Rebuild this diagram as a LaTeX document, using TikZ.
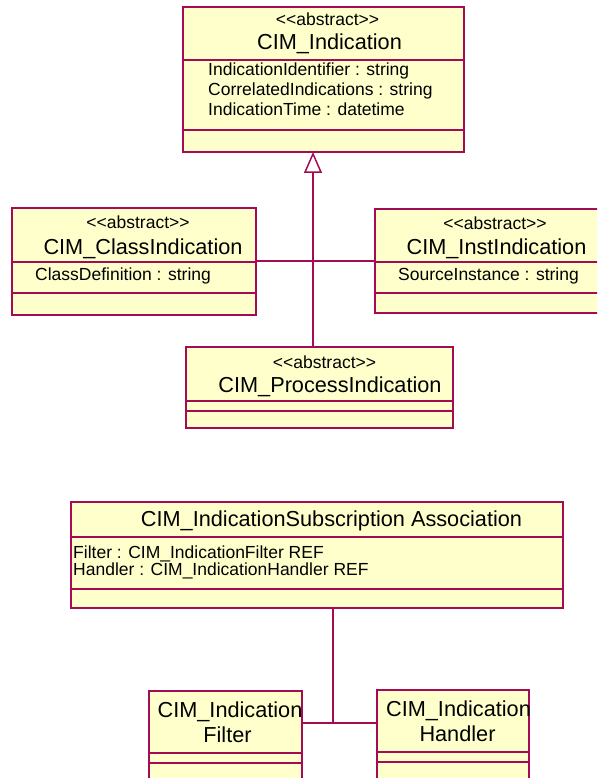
\documentclass[tikz,border=0pt]{standalone}
\usepackage{fontspec}
\setmainfont{Liberation Sans}
\usetikzlibrary{arrows.meta,calc}
\definecolor{umlline}{RGB}{165,10,85}
\definecolor{umlfill}{RGB}{255,255,204}
\tikzset{
  umlbox/.style={draw=umlline, fill=umlfill, line width=1.8pt, rectangle, inner sep=0pt, outer sep=0pt, anchor=north west},
  divider/.style={draw=umlline, line width=1.5pt},
  conn/.style={draw=umlline, line width=1.5pt},
  assoc/.style={draw=umlline, line width=2.4pt},
  small/.style={font=\fontsize{17.5}{20}\selectfont, inner sep=0pt, anchor=base},
  smallleft/.style={font=\fontsize{17.5}{20}\selectfont, inner sep=0pt, anchor=base west},
  title/.style={font=\fontsize{21.7}{24}\selectfont, inner sep=0pt, anchor=base},
}
\begin{document}
\begin{tikzpicture}[x=1pt,y=-1pt]
\useasboundingbox (0,0) rectangle (597,778);
\clip (0,0) rectangle (597,778);
% CIM_Indication
\node[umlbox, minimum width=281pt, minimum height=145pt] (ind) at (183,7) {};
\draw[divider] (183,60) -- (464,60);
\draw[divider] (183,130) -- (464,130);
\node[small] (indst) at (327.5,26) {<{}<abstract>{}>};
\node[title] (indt) at (329.5,50) {CIM\_Indication};
\node[smallleft] (inda1) at (208,76) {IndicationIdentifier : string};
\node[smallleft] (inda2) at (208,96) {CorrelatedIndications : string};
\node[smallleft] (inda3) at (208,116) {IndicationTime : datetime};
% CIM_ClassIndication
\node[umlbox, minimum width=244pt, minimum height=107pt] (cls) at (12,208) {};
\draw[divider] (12,262) -- (256,262);
\draw[divider] (12,293) -- (256,293);
\node[small] (clsst) at (138,228) {<{}<abstract>{}>};
\node[title] (clst) at (143,254) {CIM\_ClassIndication};
\node[smallleft] (clsa1) at (35,280) {ClassDefinition : string};
% CIM_InstIndication
\node[umlbox, minimum width=226pt, minimum height=104pt] (inst) at (375,209) {};
\draw[divider] (375,262) -- (601,262);
\draw[divider] (375,293) -- (601,293);
\node[small] (instst) at (495,229) {<{}<abstract>{}>};
\node[title] (instt) at (496.5,254) {CIM\_InstIndication};
\node[smallleft] (insta1) at (398,280) {SourceInstance : string};
% CIM_ProcessIndication
\node[umlbox, minimum width=267pt, minimum height=81pt] (proc) at (186,347) {};
\draw[divider] (186,401) -- (453,401);
\draw[divider] (186,411) -- (453,411);
\node[small] (procst) at (324.5,368) {<{}<abstract>{}>};
\node[title] (proct) at (330,392) {CIM\_ProcessIndication};
% Generalization connectors
\coordinate (gx) at (313,0);
\draw[conn] (cls.east |- 0,261) -- (inst.west |- 0,261);
\draw[conn, -{Triangle[open, length=21pt, width=18pt, line width=1.5pt]}] (gx |- proc.north) -- (gx |- ind.south);
% Association class
\node[umlbox, minimum width=492pt, minimum height=106pt] (asc) at (71,502) {};
\draw[divider] (71,537) -- (563,537);
\draw[divider] (71,589) -- (563,589);
\node[title] (asct) at (331.5,526) {CIM\_IndicationSubscription Association};
\node[smallleft] (asca1) at (73,558) {Filter : CIM\_IndicationFilter REF};
\node[smallleft] (asca2) at (73,575) {Handler : CIM\_IndicationHandler REF};
% Filter
\node[umlbox, minimum width=153pt, minimum height=90pt] (flt) at (149,691) {};
\draw[divider] (149,753) -- (302,753);
\draw[divider] (149,763) -- (302,763);
\node[title] (fltt1) at (230,717) {CIM\_Indication};
\node[title] (fltt2) at (227.5,742) {Filter};
% Handler
\node[umlbox, minimum width=152pt, minimum height=91pt] (hnd) at (377,690) {};
\draw[divider] (377,752) -- (529,752);
\draw[divider] (377,762) -- (529,762);
\node[title] (hndt1) at (458.5,716) {CIM\_Indication};
\node[title] (hndt2) at (457.5,741) {Handler};
% Association connectors
\coordinate (ax) at (333,0);
\coordinate (aj) at (333,723);
\draw[assoc] (ax |- asc.south) -- (aj);
\draw[conn] (aj) -- (flt.east |- aj);
\draw[conn] (aj) -- (hnd.west |- aj);
\end{tikzpicture}
\end{document}
